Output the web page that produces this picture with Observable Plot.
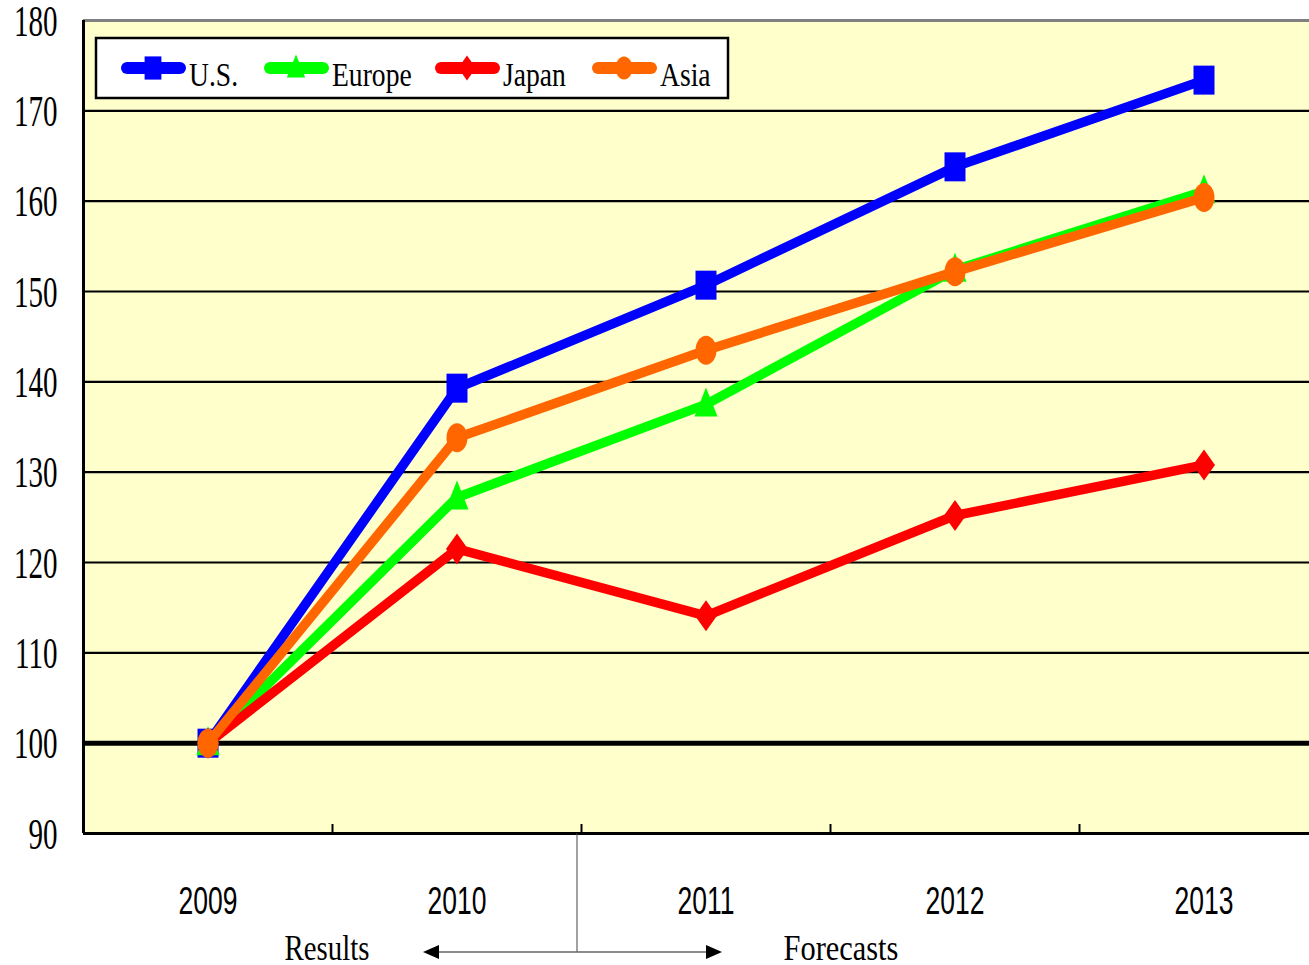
<!DOCTYPE html>
<html><head><meta charset="utf-8">
<script src="https://cdn.jsdelivr.net/npm/d3@7"></script>
<script src="https://cdn.jsdelivr.net/npm/@observablehq/plot@0.6"></script>
<style>
html,body{margin:0;padding:0;overflow:hidden;background:#fff;}
#chart{position:relative;width:1328px;height:965px;}
</style></head><body><div id="chart"></div>
<script>
// ---- data ----
const years = [2009, 2010, 2011, 2012, 2013];
const usValues = [100, 139.3, 150.7, 163.8, 173.4];
const europeValues = [100, 127.2, 137.5, 152.4, 161.1];
const japanValues = [100, 121.5, 114.1, 125.2, 130.8];
const asiaValues = [100, 133.8, 143.5, 152.2, 160.4];
const seriesNames = ["U.S.", "Europe", "Japan", "Asia"];
const seriesColors = ["#0000ff", "#00ff00", "#ff0000", "#ff6600"];
const yTicks = [90, 100, 110, 120, 130, 140, 150, 160, 170, 180];
const gridValues = [110, 120, 130, 140, 150, 160, 170];
const baseValue = 100;
const dividerYear = 2010.5;
const bandEdges = [2009.5, 2010.5, 2011.5, 2012.5];
const periodLabels = ["Results", "Forecasts"];

// ---- marker shapes (slightly tall, as in the original) ----
const square = {draw(c){c.moveTo(-10.5,-14.5);c.lineTo(10.5,-14.5);c.lineTo(10.5,14.5);c.lineTo(-10.5,14.5);c.closePath();}};
const triangle = {draw(c){c.moveTo(0,-17);c.lineTo(11.5,12);c.lineTo(-11.5,12);c.closePath();}};
const diamond = {draw(c){c.moveTo(0,-15.5);c.lineTo(11,0);c.lineTo(0,15.5);c.lineTo(-11,0);c.closePath();}};
const ellipse = {draw(c){const rx=10.5, ry=14.5, k=0.5523;
  c.moveTo(rx,0);
  c.bezierCurveTo(rx,ry*k,rx*k,ry,0,ry);
  c.bezierCurveTo(-rx*k,ry,-rx,ry*k,-rx,0);
  c.bezierCurveTo(-rx,-ry*k,-rx*k,-ry,0,-ry);
  c.bezierCurveTo(rx*k,-ry,rx,-ry*k,rx,0);
  c.closePath();}};
const symbols = [square, triangle, diamond, ellipse];
const allValues = [usValues, europeValues, japanValues, asiaValues];

const seriesMarks = seriesNames.flatMap((name, i) => {
  const rows = years.map((yr, j) => ({series: name, year: yr, value: allValues[i][j]}));
  return [
    Plot.line(rows, {x: "year", y: "value", stroke: seriesColors[i], strokeWidth: 9.5, strokeLinejoin: "round"}),
    Plot.dot(rows, {x: "year", y: "value", symbol: symbols[i], fill: seriesColors[i], stroke: "none", r: 10})
  ];
});

const chart = Plot.plot({
  width: 1328, height: 965,
  marginTop: 20, marginBottom: 132, marginLeft: 83, marginRight: 0,
  x: {domain: [2008.5, 2013.5], label: null},
  y: {domain: [90, 180], label: null},
  style: {background: "transparent", overflow: "visible"},
  marks: [
    Plot.frame({fill: "#ffffcc", stroke: null}),
    Plot.ruleY(gridValues, {stroke: "#000", strokeWidth: 2.2}),
    Plot.ruleY([180], {stroke: "#808080", strokeWidth: 3}),
    Plot.ruleY([baseValue], {stroke: "#000", strokeWidth: 5}),
    Plot.axisY({ticks: yTicks, tickSize: 0, tickPadding: 26, label: null, tickFormat: d => String(d)}),
    Plot.axisX({ticks: years, tickSize: 0, tickPadding: 54, label: null, tickFormat: d => String(d)}),
    Plot.axisX({ticks: bandEdges, tickSize: -9, label: null, tickFormat: () => "", strokeWidth: 2, stroke: "#000"}),
    ...seriesMarks,
    Plot.ruleY([90], {stroke: "#000", strokeWidth: 3}),
    Plot.ruleX([2008.5], {stroke: "#000", strokeWidth: 3})
  ]
});
document.getElementById("chart").appendChild(chart);

const svg = d3.select(chart);
function squeeze(sel, sx, family, size, dy) {
  sel.each(function(){
    const t = d3.select(this);
    const x = +t.attr("x") || 0, y = +t.attr("y") || 0;
    const tr = t.attr("transform") || "";
    t.attr("x", null).attr("y", null)
     .attr("transform", `${tr} translate(${x},${y + (dy||0)}) scale(${sx},1)`)
     .attr("font-family", family).attr("font-size", size).attr("fill", "#000");
  });
}
squeeze(svg.selectAll("g[aria-label='y-axis tick label'] text"), 0.66, "Liberation Serif", 44, 15);
squeeze(svg.selectAll("g[aria-label='x-axis tick label'] text"), 0.68, "Liberation Sans", 39, 26);

// ---- legend ----
const lg = svg.append("g").attr("font-family", "Liberation Serif");
lg.append("rect").attr("x", 96).attr("y", 38).attr("width", 632).attr("height", 60)
  .attr("fill", "#fff").attr("stroke", "#000").attr("stroke-width", 2.5);
const itemX = [121, 264, 435, 592];
seriesNames.forEach((name, i) => {
  const x0 = itemX[i];
  lg.append("line").attr("x1", x0 + 6).attr("x2", x0 + 59).attr("y1", 68).attr("y2", 68)
    .attr("stroke", seriesColors[i]).attr("stroke-width", 12).attr("stroke-linecap", "round");
  const p = d3.path(); symbols[i].draw(p);
  lg.append("path").attr("d", p.toString()).attr("fill", seriesColors[i])
    .attr("transform", `translate(${x0 + 32},68) scale(0.8)`);
  lg.append("text").text(name).attr("text-anchor", "start")
    .attr("transform", `translate(${x0 + 68},86) scale(0.92,1.1)`)
    .attr("font-size", 30).attr("fill", "#000");
});

// ---- results / forecasts annotation ----
const xs = chart.scale("x"), ys = chart.scale("y");
const dx = xs.apply(dividerYear), by = ys.apply(90);
const ann = svg.append("g");
const ay = 952;
ann.append("line").attr("x1", dx - 4).attr("x2", dx - 4).attr("y1", by).attr("y2", ay).attr("stroke", "#444").attr("stroke-width", 1);
ann.append("line").attr("x1", dx - 150).attr("x2", dx + 130).attr("y1", ay).attr("y2", ay).attr("stroke", "#666").attr("stroke-width", 1.5);
ann.append("path").attr("d", `M${dx-158},${ay}L${dx-142},${ay-7}L${dx-142},${ay+7}Z`).attr("fill", "#000");
ann.append("path").attr("d", `M${dx+141},${ay}L${dx+125},${ay-7}L${dx+125},${ay+7}Z`).attr("fill", "#000");
ann.append("text").text(periodLabels[0]).attr("text-anchor", "middle")
  .attr("transform", `translate(${dx - 254},960) scale(0.9,1.1)`)
  .attr("font-family", "Liberation Serif").attr("font-size", 32).attr("fill", "#000");
ann.append("text").text(periodLabels[1]).attr("text-anchor", "middle")
  .attr("transform", `translate(${dx + 260},960) scale(0.95,1.1)`)
  .attr("font-family", "Liberation Serif").attr("font-size", 32).attr("fill", "#000");
</script></body></html>
